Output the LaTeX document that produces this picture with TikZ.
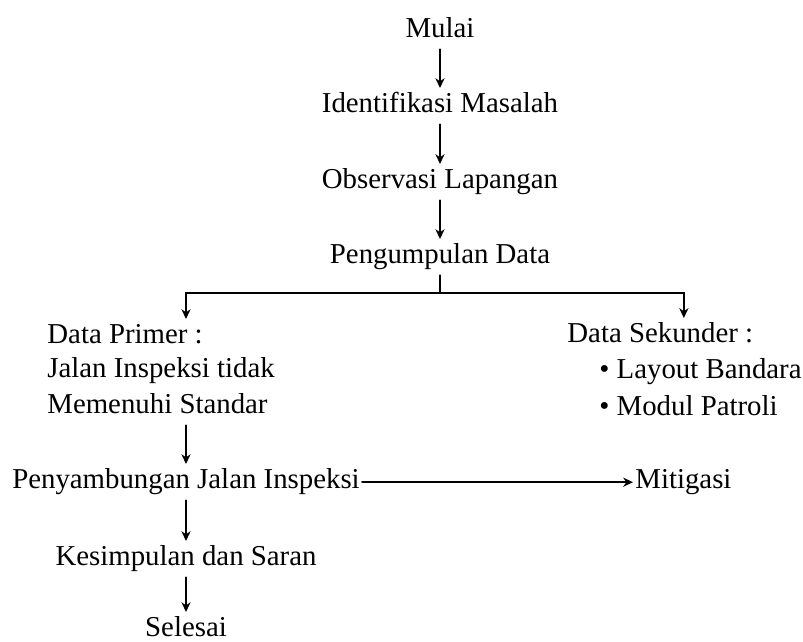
\documentclass[tikz,border=0pt]{standalone}
\usepackage{fontspec}
\setmainfont{Liberation Serif}
\usepackage{tikz}
\usetikzlibrary{arrows.meta}
\usetikzlibrary{shapes,positioning}
\tikzset{>={Stealth[length=7pt,width=6.5pt]},
  langkah/.style={inner sep=1pt,text height=0.54cm,text depth=0.25cm,anchor=base},
  kiri/.style={langkah,anchor=base west}}

\begin{document}
\begin{tikzpicture}[x=0.025cm,y=-0.025cm,line cap=round,line width=1.4pt,
  font=\fontsize{20.5}{24}\selectfont]

  \useasboundingbox (0,0) rectangle (803,641);

  \node [langkah] (mulai) at (440,37) {Mulai};
  \node [langkah] (identifikasi) at (440,112) {Identifikasi Masalah};
  \node [langkah] (observasi) at (440,188) {Observasi Lapangan};
  \node [langkah] (pengumpulan) at (440,263) {Pengumpulan Data};

  \node [kiri] (primer) at (45,343) {Data Primer :};
  \node [kiri] (jalan) at (45,377) {Jalan Inspeksi tidak};
  \node [kiri] (memenuhi) at (45,413) {Memenuhi Standar};

  \node [kiri] (sekunder) at (565,342) {Data Sekunder :};
  \node [kiri] (layout) at (597,378) {\textbullet\ Layout Bandara};
  \node [kiri] (modul) at (597,415) {\textbullet\ Modul Patroli};

  \node [langkah] (penyambungan) at (186,488) {Penyambungan Jalan Inspeksi};
  \node [kiri] (mitigasi) at (633,488) {Mitigasi};
  \node [langkah] (kesimpulan) at (186,565) {Kesimpulan dan Saran};
  \node [langkah] (selesai) at (186,636) {Selesai};

  \coordinate (cabang) at (440,293);


  \draw [->] (mulai) -- (identifikasi);
  \draw [->] (identifikasi) -- (observasi);
  \draw [->] (observasi) -- (pengumpulan);

  \draw (pengumpulan) -- (cabang);
  \draw [->] (cabang) -| (penyambungan.center |- primer.north);
  \draw [->] (cabang) -| ([xshift=0.59cm]sekunder.north);


  \draw [->] (penyambungan.center |- memenuhi.south) -- (penyambungan);
  \draw [->] (penyambungan) -- (mitigasi);
  \draw [->] (penyambungan) -- (kesimpulan);
  \draw [->] (kesimpulan) -- (selesai);

\end{tikzpicture}
\end{document}
